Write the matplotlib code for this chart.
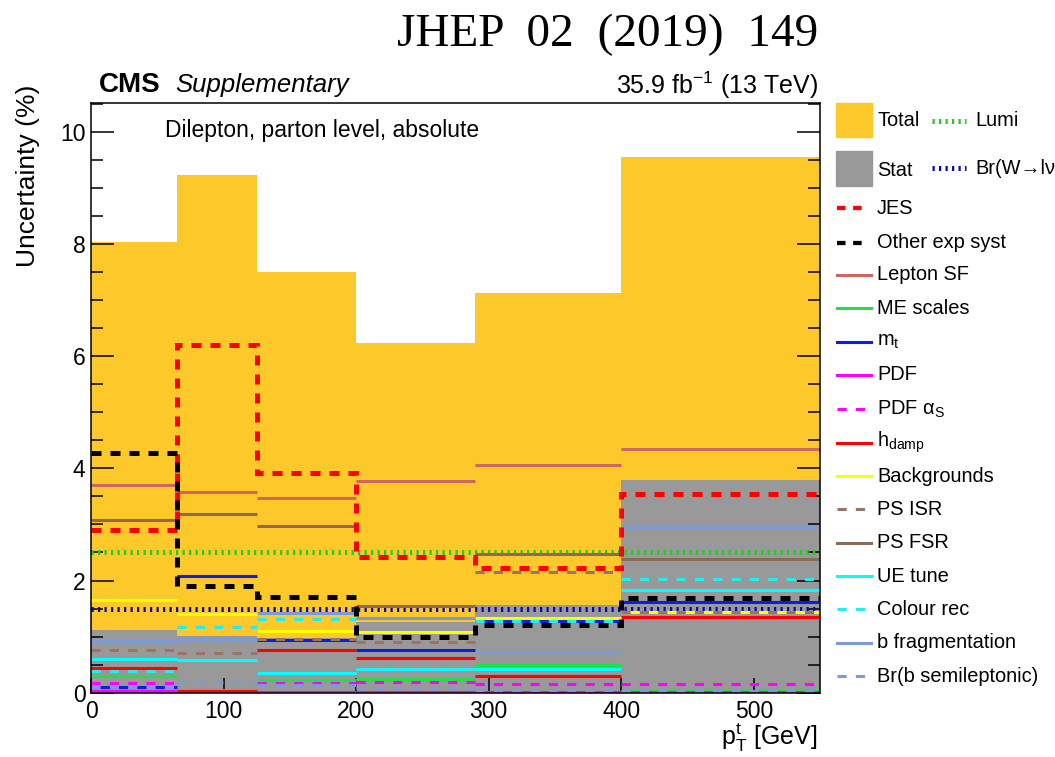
import matplotlib
matplotlib.use("Agg")
import matplotlib.pyplot as plt
from matplotlib.patches import Rectangle
from matplotlib.lines import Line2D
from matplotlib.ticker import MultipleLocator

plt.rcParams['font.family'] = ['Liberation Sans', 'DejaVu Sans']
plt.rcParams['mathtext.fontset'] = 'custom'
plt.rcParams['mathtext.rm'] = 'Liberation Sans'
plt.rcParams['mathtext.it'] = 'Liberation Sans:italic'
plt.rcParams['mathtext.bf'] = 'Liberation Sans:bold'

# ---------------- data ----------------
bin_edges = [0, 65, 125, 200, 290, 400, 550]
total = [8.04, 9.23, 7.50, 6.23, 7.13, 9.55]
stat = [1.12, 1.01, 0.97, 1.26, 1.56, 3.80]
lumi = [2.5, 2.5, 2.5, 2.5, 2.5, 2.5]
br_w = [1.5, 1.5, 1.5, 1.5, 1.5, 1.5]
jes = [2.90, 6.20, 3.91, 2.42, 2.22, 3.55]
other_exp = [4.27, 1.91, 1.70, 1.00, 1.20, 1.69]
lepton_sf = [3.71, 3.58, 3.47, 3.77, 4.06, 4.34]
me_scales = [0.30, 0.05, 0.23, 0.24, 0.49, 0.03]
m_top = [0.10, 2.08, 0.94, 0.76, 1.27, 1.62]
pdf = [0.03, 0.02, 0.02, 0.02, 0.02, 0.02]
pdf_alphas = [0.17, 0.03, 0.18, 0.185, 0.155, 0.15]
hdamp = [0.44, 0.03, 0.755, 0.61, 0.30, 1.35]
backgrounds = [1.66, 1.40, 1.10, 1.09, 1.34, 1.44]
ps_isr = [0.76, 0.71, 0.96, 0.90, 2.16, 1.44]
ps_fsr = [3.08, 3.18, 2.98, 1.55, 2.48, 2.38]
ue_tune = [0.595, 0.58, 0.36, 0.42, 0.42, 1.83]
colour_rec = [0.38, 1.17, 1.31, 0.42, 1.27, 2.02]
b_frag = [0.92, 0.96, 1.42, 1.34, 0.72, 2.95]
br_bsemi = [0.10, 0.19, 0.14, 0.09, 0.05, 0.03]

xticks = [0, 100, 200, 300, 400, 500]
yticks = [0, 2, 4, 6, 8, 10]

# ---------------- styles ----------------
ORANGE = '#FDC82A'
GRAY = '#999999'
W, H = 1055, 757

fig = plt.figure(figsize=(W / 100, H / 100), dpi=100)
L, R, T, B = 91, 820, 103.3, 692.7
ax = fig.add_axes([L / W, 1 - B / H, (R - L) / W, (B - T) / H])

ax.stairs(total, bin_edges, fill=True, color=ORANGE, baseline=0, zorder=1, lw=0)
ax.stairs(stat, bin_edges, fill=True, color=GRAY, baseline=0, zorder=1.1, lw=0)

thick_dash = (0, (2.0, 1.8))
dot = (0, (0.45, 0.85))
thin_dash = (0, (3.0, 3.0))

# (label, values, color, linestyle, lw, kind)
series = [
    ('JES', jes, '#FF0000', thick_dash, 3.6, 'step'),
    ('Other exp syst', other_exp, '#000000', thick_dash, 3.6, 'step'),
    ('Lepton SF', lepton_sf, '#CF6660', '-', 2.2, 'h'),
    ('ME scales', me_scales, '#22E044', '-', 2.2, 'h'),
    ('m$_\\mathrm{t}$', m_top, '#0A1EE6', '-', 2.2, 'h'),
    ('PDF', pdf, '#FF00FF', '-', 2.2, 'h'),
    ('PDF α$_\\mathrm{S}$', pdf_alphas, '#FF00FF', thin_dash, 2.2, 'h'),
    ('h$_\\mathrm{damp}$', hdamp, '#FF0000', '-', 2.2, 'h'),
    ('Backgrounds', backgrounds, '#FFFF00', '-', 2.2, 'h'),
    ('PS ISR', ps_isr, '#9A7464', thin_dash, 2.2, 'h'),
    ('PS FSR', ps_fsr, '#8B6B58', '-', 2.2, 'h'),
    ('UE tune', ue_tune, '#00FFFF', '-', 2.2, 'h'),
    ('Colour rec', colour_rec, '#22EEEE', thin_dash, 2.2, 'h'),
    ('b fragmentation', b_frag, '#7C9AD8', '-', 2.2, 'h'),
    ('Br(b semileptonic)', br_bsemi, '#7C9AD8', thin_dash, 2.2, 'h'),
]

ax.stairs(lumi, bin_edges, baseline=None, color='#22CC22', lw=3.6,
          linestyle=dot, zorder=3)
ax.stairs(br_w, bin_edges, baseline=None, color='#0A0AB4', lw=3.6,
          linestyle=dot, zorder=3)

for i, (lab, vals, col, ls, lw, kind) in enumerate(series):
    z = 4 + i * 0.01
    if kind == 'step':
        z = 6 + i * 0.01
        ax.stairs(vals, bin_edges, baseline=None, color=col, lw=lw,
                  linestyle=ls, zorder=z)
    else:
        ax.hlines(vals, bin_edges[:-1], bin_edges[1:], colors=col, lw=lw,
                  linestyles=[ls], zorder=z)

ax.set_xlim(0, 550)
ax.set_ylim(0, (B - T) / 56.1)
ax.set_xticks(xticks)
ax.set_yticks(yticks)
ax.yaxis.set_minor_locator(MultipleLocator(0.5))
ax.tick_params(axis='both', which='both', direction='in', labelsize=16.5,
               width=1.1, right=True, top=False)
ax.tick_params(axis='y', which='major', length=16.5, pad=4)
ax.tick_params(axis='y', which='minor', length=8.5)
ax.tick_params(axis='x', which='major', length=11, pad=5)
for s in ax.spines.values():
    s.set_linewidth(1.1)
    s.set_zorder(10)

# ---------------- texts ----------------
fig.text(818 / W, 1 - 35 / H, 'JHEP  02  (2019)  149', family='Liberation Serif',
         fontsize=34, ha='right', va='center')
fig.text(99 / W, 1 - 85 / H, 'CMS', fontsize=20, fontweight='bold',
         ha='left', va='center')
fig.text(175 / W, 1 - 85 / H, 'Supplementary', fontsize=18.5, style='italic',
         ha='left', va='center')
fig.text(818 / W, 1 - 85 / H, '35.9 fb$^{-1}$ (13 TeV)', fontsize=18,
         ha='right', va='center')
fig.text(165 / W, 1 - 131 / H, 'Dilepton, parton level, absolute',
         fontsize=16.5, ha='left', va='center')
fig.text(28 / W, 1 - 85 / H, 'Uncertainty (%)', fontsize=19, rotation=90,
         ha='center', va='top')
fig.text(818 / W, 1 - 738 / H, '$\\mathrm{p}_{\\mathrm{T}}^{\\mathrm{t}}$ [GeV]',
         fontsize=18, ha='right', va='center')

# ---------------- legend (manual) ----------------
lax = fig.add_axes([0, 0, 1, 1], zorder=20)
lax.set_xlim(0, W)
lax.set_ylim(H, 0)
lax.axis('off')
lax.patch.set_alpha(0)

LFS = 14.4
lax.add_patch(Rectangle((836, 103), 36, 34, color=ORANGE))
lax.text(877, 121, 'Total', fontsize=LFS, va='center', ha='left')
lax.add_line(Line2D([932, 966], [121, 121], color='#22CC22', lw=3.6, linestyle=dot))
lax.text(975, 121, 'Lumi', fontsize=LFS, va='center', ha='left')
lax.add_patch(Rectangle((836, 151), 36, 35, color=GRAY))
lax.text(877, 170, 'Stat', fontsize=LFS, va='center', ha='left')
lax.add_line(Line2D([932, 966], [168, 168], color='#0A0AB4', lw=3.6, linestyle=dot))
lax.text(975, 168, 'Br(W→lν)', fontsize=LFS, va='center', ha='left')

row_y = [208.3, 242.7, 275, 308.3, 341.7, 375, 409, 442.5, 476, 509.3,
         542.7, 576, 609.3, 642.7, 676]
for (lab, vals, col, ls, lw, kind), yy in zip(series, row_y):
    if kind == 'step':
        lax.add_line(Line2D([837, 868], [yy, yy], color=col, lw=lw * 0.85,
                            linestyle=ls, solid_capstyle='butt',
                            dash_capstyle='butt'))
    else:
        lax.add_line(Line2D([837, 871], [yy, yy], color=col, lw=lw,
                            linestyle=ls, dash_capstyle='butt'))
    lax.text(877, yy, lab, fontsize=LFS, va='center', ha='left')

fig.savefig('out.png', dpi=100)
